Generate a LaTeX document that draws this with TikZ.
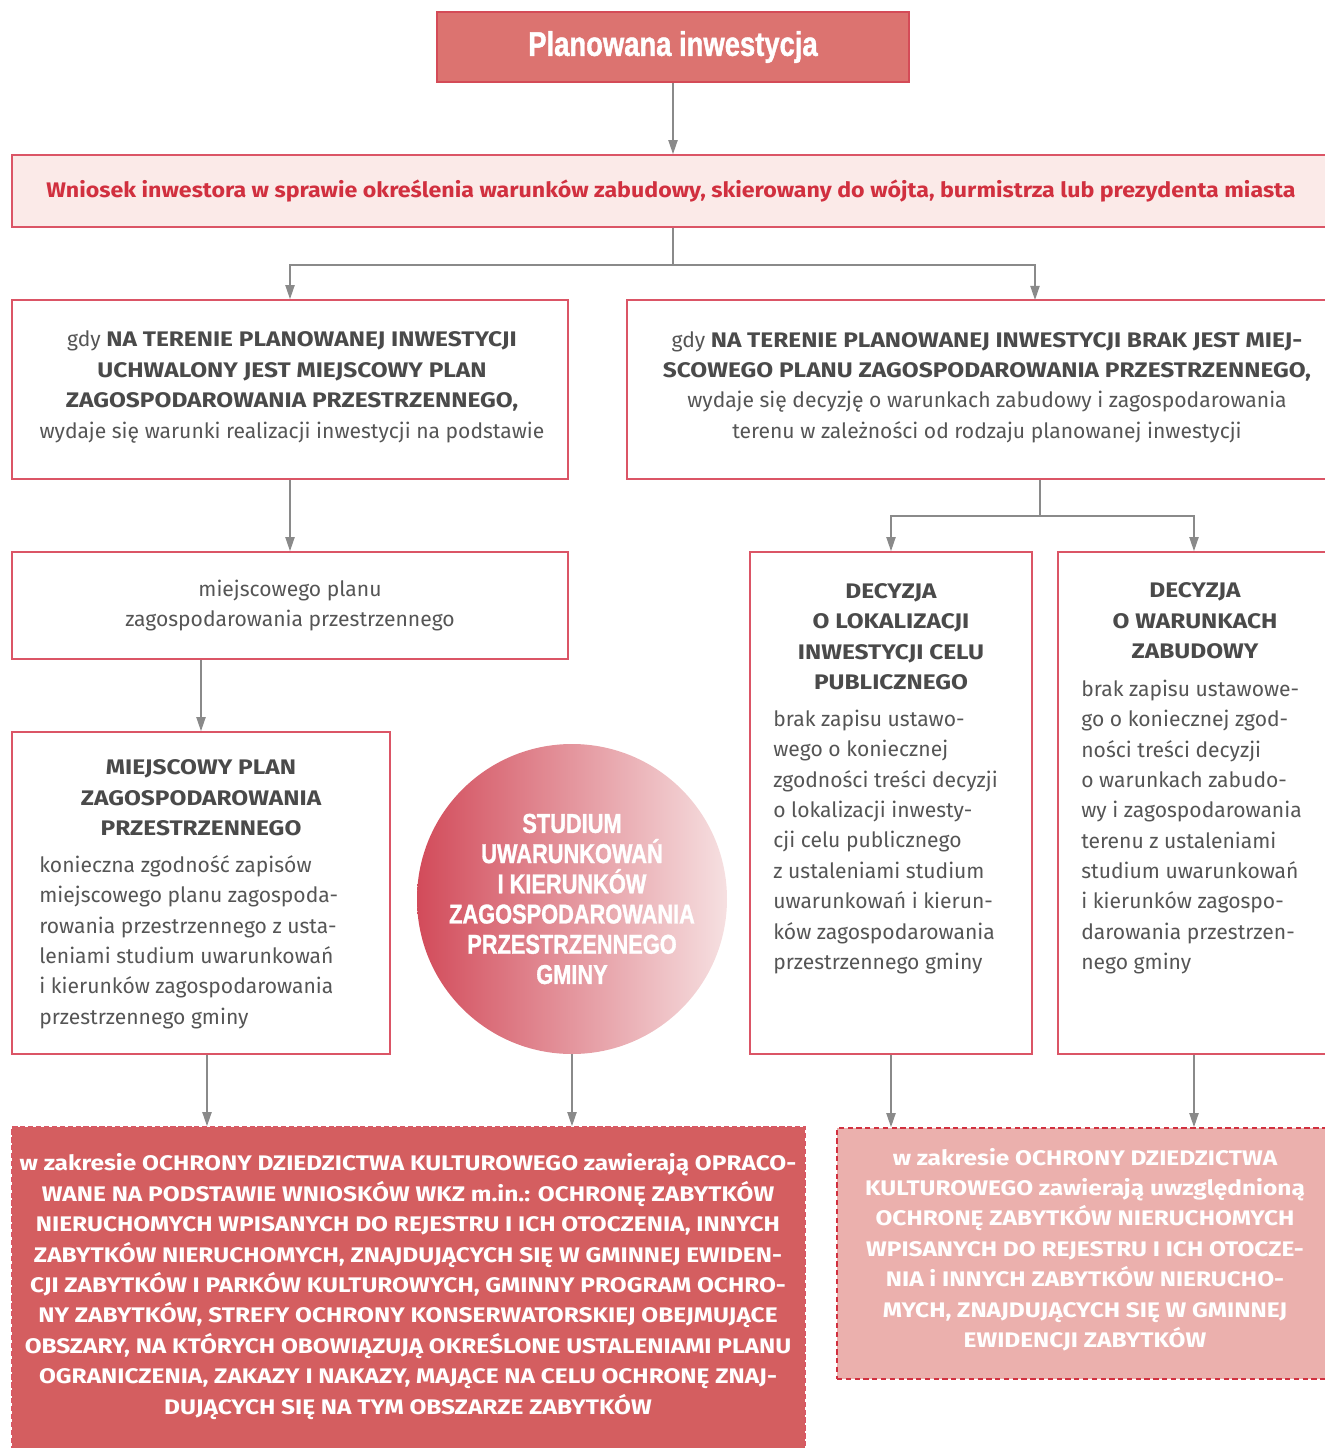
\documentclass[tikz,border=0pt]{standalone}
\usepackage{fontspec}
\setmainfont{Fira Sans}[BoldFeatures={FakeStretch=1.16}]
\newfontfamily\wnioskfont{Fira Sans}[BoldFeatures={FakeStretch=1.1}]
\newfontfamily\condfont{Liberation Sans}[FakeStretch=0.8, BoldFeatures={FakeBold=1.2}]
\usetikzlibrary{arrows.meta}
\definecolor{topfill}{HTML}{DC7370}
\definecolor{topred}{HTML}{D44B57}
\definecolor{boxred}{HTML}{DB5566}
\definecolor{wnioskfill}{HTML}{FBEAE8}
\definecolor{wnioskred}{HTML}{D1303F}
\definecolor{textgray}{HTML}{555555}
\definecolor{headgray}{HTML}{4A4A4A}
\definecolor{linegray}{HTML}{8A8A8A}
\definecolor{planfill}{HTML}{D45E60}
\definecolor{decfill}{HTML}{EBB0AD}
\definecolor{circleleft}{HTML}{D24B5A}
\definecolor{circleright}{HTML}{F6E0E1}

\begin{document}
\begin{tikzpicture}[x=0.02cm, y=-0.02cm,
    box/.style={draw=boxred, line width=0.9pt, inner sep=0pt},
    boxsize/.style 2 args={minimum width=#1*0.02cm, minimum height=#2*0.02cm},
    link/.style={draw=linegray, line width=0.9pt},
    arr/.style={link, -{Triangle[width=5.2pt,length=8pt]}},
    body/.style={text=textgray, inner sep=0pt, font=\fontsize{12}{17.3}\selectfont},
    head/.style={text=headgray, inner sep=0pt, align=center, font=\bfseries\fontsize{12}{17.3}\selectfont},
    white text/.style={text=white, inner sep=0pt, align=center, font=\bfseries\fontsize{12}{17.3}\selectfont}]
    \useasboundingbox (0,0) rectangle (1325,1448);
    \clip (0,0) rectangle (1325,1448);

    % top of the chart
    \node[box, draw=topred, fill=topfill, boxsize={472}{70}, text=white,
        font=\condfont\bfseries\fontsize{19.5}{22}\selectfont] (plan) at (673,47) {Planowana inwestycja};
    \node[box, fill=wnioskfill, boxsize={1318}{72}, text=wnioskred,
        font=\wnioskfont\bfseries\fontsize{12}{17.3}\selectfont] (wniosek) at (671,191)
        {Wniosek inwestora w sprawie określenia warunków zabudowy, skierowany do wójta, burmistrza lub prezydenta miasta};
    \draw[arr] (plan) -- (plan |- wniosek.north);

    % two cases
    \node[box, boxsize={556}{179}] (gdyPlan) at (290,389.5) {};
    \node[body, align=center] (gdyPlanText) at (292,387)
        {gdy \textbf{\color{headgray}NA TERENIE PLANOWANEJ INWESTYCJI}\\
         \textbf{\color{headgray}UCHWALONY JEST MIEJSCOWY PLAN}\\
         \textbf{\color{headgray}ZAGOSPODAROWANIA PRZESTRZENNEGO,}\\
         wydaje się warunki realizacji inwestycji na podstawie};
    \node[box, boxsize={703}{179}] (gdyBrak) at (978.5,389.5) {};
    \node[body, align=center] (gdyBrakText) at (987,387)
        {gdy \textbf{\color{headgray}NA TERENIE PLANOWANEJ INWESTYCJI BRAK JEST MIEJ-}\\
         \textbf{\color{headgray}SCOWEGO PLANU ZAGOSPODAROWANIA PRZESTRZENNEGO,}\\
         wydaje się decyzję o warunkach zabudowy i zagospodarowania\\
         terenu w zależności od rodzaju planowanej inwestycji};
    \coordinate (split1) at (673,265);
    \coordinate (inBrak) at (1035,300);
    \draw[link] (wniosek.south -| split1) -- (split1);
    \draw[arr] (split1) -| (gdyPlan.north);
    \draw[arr] (split1) -| (inBrak);

    % left branch
    \node[box, boxsize={556}{107}, body, align=center] (naPodstawie) at (290,605.5)
        {miejscowego planu\\ zagospodarowania przestrzennego};
    \draw[arr] (gdyPlan) -- (naPodstawie);
    \node[box, boxsize={378}{322}] (mpzp) at (201,893) {};
    \node[head] (mpzpHead) at (201,798) {MIEJSCOWY PLAN\\ ZAGOSPODAROWANIA\\ PRZESTRZENNEGO};
    \node[body, align=left, anchor=west] (mpzpBody) at (39,942)
        {konieczna zgodność zapisów\\ miejscowego planu zagospoda-\\ rowania przestrzennego z usta-\\
         leniami studium uwarunkowań\\ i kierunków zagospodarowania\\ przestrzennego gminy};
    \draw[arr] (naPodstawie.south -| mpzp) -- (mpzp);

    % studium
    \node[circle, minimum size=310*0.02cm, inner sep=0pt, left color=circleleft, right color=circleright,
        text=white, align=center, font=\condfont\bfseries\fontsize{15.5}{17.2}\selectfont] (studium) at (572,899)
        {STUDIUM\\ UWARUNKOWAŃ\\ I KIERUNKÓW\\ ZAGOSPODAROWANIA\\ PRZESTRZENNEGO\\ GMINY};

    % right branch
    \node[box, boxsize={282}{502}] (lokalizacja) at (891,803) {};
    \node[head] (lokalizacjaHead) at (891,636.5) {DECYZJA\\ O LOKALIZACJI\\ INWESTYCJI CELU\\ PUBLICZNEGO};
    \node[body, align=left, anchor=west] (lokalizacjaBody) at (773,842)
        {brak zapisu ustawo-\\ wego o koniecznej\\ zgodności treści decyzji\\ o lokalizacji inwesty-\\
         cji celu publicznego\\ z ustaleniami studium\\ uwarunkowań i kierun-\\ ków zagospodarowania\\ przestrzennego gminy};
    \node[box, boxsize={272}{502}] (warunki) at (1194,803) {};
    \node[head] (warunkiHead) at (1195,621) {DECYZJA\\ O WARUNKACH\\ ZABUDOWY};
    \node[body, align=left, anchor=west] (warunkiBody) at (1081,827)
        {brak zapisu ustawowe-\\ go o koniecznej zgod-\\ ności treści decyzji\\ o warunkach zabudo-\\
         wy i zagospodarowania\\ terenu z ustaleniami\\ studium uwarunkowań\\ i kierunków zagospo-\\
         darowania przestrzen-\\ nego gminy};
    \coordinate (split2) at (1040,516);
    \draw[link] (gdyBrak.south -| split2) -- (split2);
    \draw[arr] (split2) -| (lokalizacja.north);
    \draw[arr] (split2) -| (warunki.north);

    % cultural heritage
    \node[box, draw=boxred!60!planfill, dash pattern=on 3pt off 1.5pt, fill=planfill, boxsize={793}{325}] (ochronaPlan) at (408.5,1289.5) {};
    \node[white text] (ochronaPlanText) at (408,1286.5)
        {w zakresie OCHRONY DZIEDZICTWA KULTUROWEGO zawierają OPRACO-\\
         WANE NA PODSTAWIE WNIOSKÓW WKZ m.in.: OCHRONĘ ZABYTKÓW\\
         NIERUCHOMYCH WPISANYCH DO REJESTRU I ICH OTOCZENIA, INNYCH\\
         ZABYTKÓW NIERUCHOMYCH, ZNAJDUJĄCYCH SIĘ W GMINNEJ EWIDEN-\\
         CJI ZABYTKÓW I PARKÓW KULTUROWYCH, GMINNY PROGRAM OCHRO-\\
         NY ZABYTKÓW, STREFY OCHRONY KONSERWATORSKIEJ OBEJMUJĄCE\\
         OBSZARY, NA KTÓRYCH OBOWIĄZUJĄ OKREŚLONE USTALENIAMI PLANU\\
         OGRANICZENIA, ZAKAZY I NAKAZY, MAJĄCE NA CELU OCHRONĘ ZNAJ-\\
         DUJĄCYCH SIĘ NA TYM OBSZARZE ZABYTKÓW};
    \node[box, draw=wnioskred, dash pattern=on 3pt off 2pt, fill=decfill, boxsize={493}{251}] (ochronaDecyzja) at (1083.5,1253.5) {};
    \node[white text] (ochronaDecyzjaText) at (1085,1249.5)
        {w zakresie OCHRONY DZIEDZICTWA\\ KULTUROWEGO zawierają uwzględnioną\\ OCHRONĘ ZABYTKÓW NIERUCHOMYCH\\
         WPISANYCH DO REJESTRU I ICH OTOCZE-\\ NIA i INNYCH ZABYTKÓW NIERUCHO-\\
         MYCH, ZNAJDUJĄCYCH SIĘ W GMINNEJ\\ EWIDENCJI ZABYTKÓW};
    \draw[arr] ([xshift=6*0.02cm]mpzp.south) -- ([xshift=6*0.02cm]mpzp.south |- ochronaPlan.north);
    \draw[arr] (studium) -- (studium |- ochronaPlan.north);
    \draw[arr] (lokalizacja) -- (lokalizacja |- ochronaDecyzja.north);
    \draw[arr] (warunki) -- (warunki |- ochronaDecyzja.north);
\end{tikzpicture}
\end{document}
